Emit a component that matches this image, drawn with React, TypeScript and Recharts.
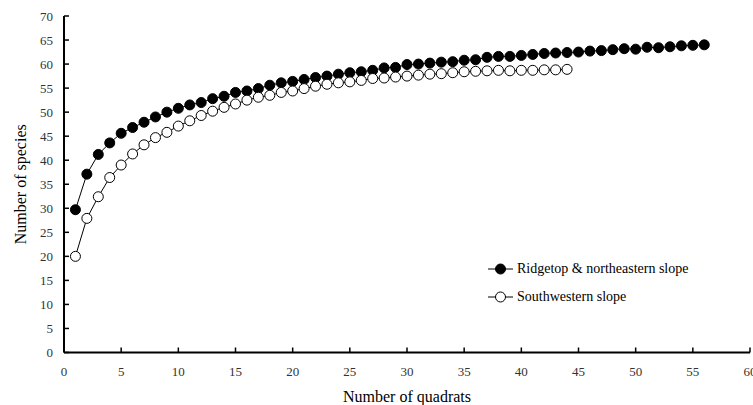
import { LineChart, Line, XAxis, YAxis } from "recharts"

const quadrats = Array.from({ length: 56 }, (_, i) => i + 1)

const ridgetop = [
  29.7, 37.1, 41.2, 43.6, 45.6, 46.8, 47.9, 49.0, 50.0, 50.8,
  51.5, 52.0, 52.8, 53.3, 54.1, 54.4, 54.9, 55.6, 56.1, 56.4,
  56.8, 57.2, 57.5, 57.9, 58.2, 58.4, 58.7, 59.2, 59.3, 59.9,
  60.0, 60.2, 60.4, 60.5, 60.8, 60.9, 61.4, 61.6, 61.6, 61.8,
  62.0, 62.2, 62.3, 62.4, 62.5, 62.7, 62.8, 63.0, 63.2, 63.1,
  63.5, 63.4, 63.6, 63.8, 63.9, 64.0,
]

const southwestern = [
  20.0, 27.9, 32.4, 36.4, 39.0, 41.3, 43.2, 44.7, 45.8, 47.1,
  48.2, 49.3, 50.2, 51.0, 51.7, 52.5, 53.1, 53.5, 54.1, 54.4,
  54.9, 55.4, 55.8, 56.1, 56.3, 56.6, 57.0, 57.1, 57.3, 57.5,
  57.7, 57.9, 58.0, 58.2, 58.4, 58.5, 58.6, 58.7, 58.6, 58.7,
  58.7, 58.8, 58.8, 58.9,
]

const xTicks = [0, 5, 10, 15, 20, 25, 30, 35, 40, 45, 50, 55, 60]
const yTicks = [0, 5, 10, 15, 20, 25, 30, 35, 40, 45, 50, 55, 60, 65, 70]

const seriesNames = ["Ridgetop & northeastern slope", "Southwestern slope"]
const seriesFills = ["#000", "#fff"]

const data = quadrats.map((q, i) => ({
  q,
  ridge: ridgetop[i],
  south: southwestern[i],
}))

const FONT = "'Liberation Serif', 'Times New Roman', serif"

function YTick(props: any) {
  const { x, y, payload } = props
  return (
    <g>
      <line x1={x + 11} x2={x + 16} y1={y} y2={y} stroke="#000" strokeWidth={1.5} />
      <text x={x} y={y} dy="0.35em" textAnchor="end" fontSize={13} fill="#333" fontFamily={FONT}>
        {payload.value}
      </text>
    </g>
  )
}

function XTick(props: any) {
  const { x, y, payload } = props
  return (
    <g>
      <line x1={x} x2={x} y1={y - 14} y2={y - 19} stroke="#000" strokeWidth={1.5} />
      <text x={x} y={y} dy="0.71em" textAnchor="middle" fontSize={13} fill="#333" fontFamily={FONT}>
        {payload.value}
      </text>
    </g>
  )
}

function LegendBox() {
  return (
    <div
      style={{
        position: "absolute",
        left: 488,
        top: 255,
        fontFamily: FONT,
        fontSize: 14,
        color: "#000",
        lineHeight: 1,
      }}
    >
      {seriesNames.map((name, i) => (
        <div key={name} style={{ display: "flex", alignItems: "center", height: 27.7, whiteSpace: "nowrap" }}>
          <svg width={25} height={14} style={{ marginRight: 4, flex: "none" }}>
            <line x1={0} x2={25} y1={7} y2={7} stroke="#000" strokeWidth={1} />
            <circle cx={12.5} cy={7} r={5} fill={seriesFills[i]} stroke="#000" strokeWidth={1} />
          </svg>
          <span>{name}</span>
        </div>
      ))}
    </div>
  )
}

export default function App() {
  return (
    <div style={{ position: "absolute", left: 0, top: 0, width: 753, height: 405, fontFamily: FONT }}>
      <LineChart width={753} height={405} data={data} margin={{ top: 16, right: 3, bottom: 0, left: 0 }}>
        <XAxis
          dataKey="q"
          type="number"
          domain={[0, 60]}
          ticks={xTicks}
          interval={0}
          height={52.5}
          tickSize={0}
          tickMargin={14}
          tickLine={false}
          tick={<XTick />}
          axisLine={{ stroke: "#000", strokeWidth: 2 }}
          label={{
            value: "Number of quadrats",
            position: "insideBottom",
            offset: 3,
            fontSize: 16,
            fill: "#000",
            fontFamily: FONT,
          }}
        />
        <YAxis
          type="number"
          domain={[0, 70]}
          ticks={yTicks}
          interval={0}
          width={64}
          tickSize={0}
          tickMargin={11}
          tickLine={false}
          tick={<YTick />}
          axisLine={{ stroke: "#000", strokeWidth: 2 }}
          label={{
            value: "Number of species",
            angle: -90,
            position: "center",
            dx: -12,
            fontSize: 16,
            fill: "#000",
            fontFamily: FONT,
          }}
        />
        <Line
          dataKey="ridge"
          name={seriesNames[0]}
          stroke="#000"
          strokeWidth={1}
          dot={{ r: 5, fill: "#000", stroke: "#000", strokeWidth: 1 }}
          isAnimationActive={false}
        />
        <Line
          dataKey="south"
          name={seriesNames[1]}
          stroke="#000"
          strokeWidth={1}
          dot={{ r: 5, fill: "#fff", stroke: "#000", strokeWidth: 1 }}
          isAnimationActive={false}
        />
      </LineChart>
      <LegendBox />
    </div>
  )
}
